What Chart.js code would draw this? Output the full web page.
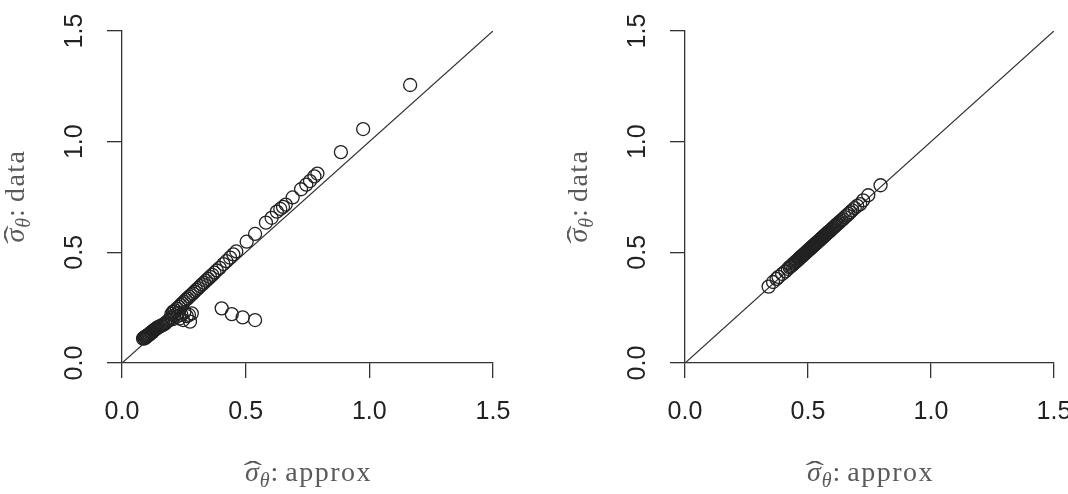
<!DOCTYPE html>
<html>
<head>
<meta charset="utf-8">
<script src="https://cdn.jsdelivr.net/npm/chart.js@4.4.0/dist/chart.umd.min.js"></script>
<style>
  html, body { margin: 0; padding: 0; background: #fff; }
  #wrap { width: 1068px; height: 494px; display: flex; }
  .panel { position: relative; width: 534px; height: 494px; }
</style>
</head>
<body>
<div id="wrap">
  <div class="panel"><canvas id="left"></canvas></div>
  <div class="panel"><canvas id="right"></canvas></div>
</div>
<script>
// axis ticks (both axes, both panels)
const tickValues = [0, 0.5, 1.0, 1.5];
const diagonal = [0, 1.5];

// left panel: sigma hat approx vs data
const leftApprox = [
  0.085, 0.088, 0.091, 0.093, 0.096, 0.098, 0.101, 0.103, 0.106, 0.109,
  0.111, 0.114, 0.117, 0.120, 0.122, 0.125, 0.128, 0.131, 0.134, 0.137,
  0.140, 0.144, 0.148, 0.153, 0.158, 0.163, 0.168, 0.174, 0.180, 0.186,
  0.192,
  0.198, 0.205, 0.207, 0.212, 0.221, 0.226, 0.233, 0.240, 0.247, 0.252,
  0.262, 0.271, 0.275, 0.282,
  0.200, 0.208, 0.215, 0.222, 0.230, 0.237, 0.244, 0.251, 0.258, 0.265,
  0.272, 0.279, 0.286, 0.293, 0.300, 0.308, 0.316, 0.324, 0.332, 0.340,
  0.348, 0.356, 0.365, 0.374, 0.383, 0.395, 0.410, 0.422, 0.437, 0.450,
  0.462, 0.504, 0.538, 0.582, 0.605, 0.626, 0.640, 0.651, 0.662, 0.690,
  0.724, 0.745, 0.760, 0.778, 0.790, 0.885, 0.975, 1.165,
  0.403, 0.444, 0.488, 0.538
];
const leftData = [
  0.110, 0.114, 0.111, 0.118, 0.116, 0.121, 0.124, 0.122, 0.127, 0.130,
  0.128, 0.134, 0.137, 0.140, 0.138, 0.144, 0.147, 0.149, 0.152, 0.154,
  0.157, 0.160, 0.163, 0.165, 0.168, 0.171, 0.174, 0.178, 0.185, 0.190,
  0.196,
  0.205, 0.198, 0.232, 0.215, 0.209, 0.225, 0.201, 0.218, 0.194, 0.230,
  0.212, 0.217, 0.187, 0.224,
  0.222, 0.230, 0.238, 0.246, 0.254, 0.262, 0.270, 0.277, 0.285, 0.292,
  0.300, 0.307, 0.314, 0.322, 0.330, 0.338, 0.347, 0.355, 0.363, 0.372,
  0.380, 0.389, 0.398, 0.408, 0.418, 0.430, 0.447, 0.460, 0.476, 0.491,
  0.504, 0.548, 0.583, 0.634, 0.656, 0.684, 0.696, 0.705, 0.716, 0.748,
  0.785, 0.806, 0.822, 0.843, 0.856, 0.953, 1.057, 1.256,
  0.247, 0.221, 0.206, 0.194
];

// right panel
const rightApprox = [
  0.340, 0.358, 0.372, 0.380, 0.395, 0.408, 0.418, 0.425, 0.430, 0.436,
  0.440, 0.445, 0.449, 0.452, 0.456, 0.460, 0.463, 0.466, 0.470, 0.473,
  0.476, 0.479, 0.482, 0.485, 0.488, 0.491, 0.494, 0.497, 0.500, 0.503,
  0.506, 0.509, 0.512, 0.515, 0.518, 0.521, 0.524, 0.527, 0.530, 0.533,
  0.536, 0.539, 0.542, 0.545, 0.548, 0.551, 0.554, 0.557, 0.560, 0.563,
  0.566, 0.569, 0.572, 0.575, 0.578, 0.581, 0.584, 0.588, 0.592, 0.596,
  0.600, 0.604, 0.608, 0.612, 0.616, 0.620, 0.625, 0.630, 0.636, 0.642,
  0.650, 0.658, 0.665, 0.672, 0.680, 0.690, 0.700, 0.712, 0.724, 0.745,
  0.795
];
const rightData = [
  0.345, 0.366, 0.380, 0.389, 0.402, 0.414, 0.425, 0.433, 0.437, 0.442,
  0.448, 0.452, 0.456, 0.460, 0.463, 0.466, 0.471, 0.474, 0.477, 0.481,
  0.483, 0.487, 0.490, 0.492, 0.496, 0.499, 0.501, 0.505, 0.508, 0.511,
  0.513, 0.517, 0.520, 0.522, 0.526, 0.529, 0.532, 0.535, 0.538, 0.541,
  0.544, 0.547, 0.550, 0.553, 0.556, 0.559, 0.562, 0.565, 0.568, 0.571,
  0.575, 0.577, 0.580, 0.584, 0.586, 0.590, 0.592, 0.596, 0.600, 0.604,
  0.609, 0.612, 0.617, 0.620, 0.625, 0.629, 0.633, 0.639, 0.645, 0.650,
  0.659, 0.667, 0.674, 0.681, 0.690, 0.700, 0.710, 0.718, 0.735, 0.758,
  0.803
];

const axisColor = "#333";
const tickFont = { family: "'Liberation Sans', Arial, sans-serif", size: 25 };

// axis titles: sigma with a wide hat and a subscript theta, as canvas text
function drawSigmaLabel(ctx, word, cx, cy, rot) {
  ctx.save();
  ctx.translate(cx, cy);
  ctx.rotate(rot);
  const big = "italic 28px 'Liberation Serif'";
  const small = "italic 20px 'Liberation Serif'";
  const roman = "28px 'Liberation Serif'";
  ctx.letterSpacing = "0px";
  ctx.font = big;
  const w1 = ctx.measureText("σ").width + 2;
  ctx.font = small;
  const w2 = ctx.measureText("θ").width;
  ctx.font = roman;
  const w3 = ctx.measureText(":").width;
  ctx.letterSpacing = "1.5px";
  const w4 = ctx.measureText(word).width;
  ctx.letterSpacing = "0px";
  const gap = 7;
  let x = -(w1 + w2 + w3 + gap + w4) / 2;
  ctx.fillStyle = "#5a5a5a";
  ctx.textAlign = "left";
  ctx.textBaseline = "alphabetic";
  ctx.font = big;
  ctx.fillText("σ", x + 1, 0);
  // wide hat over sigma
  ctx.save();
  ctx.translate(x + w1 / 2 + 1, -1);
  ctx.scale(2.0, 1);
  ctx.font = roman;
  ctx.textAlign = "center";
  ctx.fillText("ˆ", 0, 0);
  ctx.restore();
  x += w1;
  ctx.font = small;
  ctx.fillText("θ", x, 6);
  x += w2 + 1;
  ctx.font = roman;
  ctx.fillText(":", x, 0);
  x += w3 + gap;
  ctx.letterSpacing = "1.5px";
  ctx.fillText(word, x, 0);
  ctx.restore();
}

const sigmaTitles = {
  id: "sigmaTitles",
  afterDraw(chart) {
    const a = chart.chartArea;
    drawSigmaLabel(chart.ctx, "approx", (a.left + a.right) / 2, 481, 0);
    drawSigmaLabel(chart.ctx, "data", a.left - 98, (a.top + a.bottom) / 2, -Math.PI / 2);
  }
};

function fixedTicks(scale) {
  scale.ticks = tickValues.map(v => ({ value: v }));
}

function makeChart(id, xs, ys, axisWidth, padRight) {
  const points = xs.map((x, i) => ({ x: x, y: ys[i] }));
  return new Chart(document.getElementById(id), {
    type: "scatter",
    data: {
      datasets: [
        {
          type: "line",
          data: diagonal.map(v => ({ x: v, y: v })),
          borderColor: axisColor,
          borderWidth: 1.3,
          pointRadius: 0,
          order: 2,
        },
        {
          data: points,
          pointStyle: "circle",
          pointRadius: 6.5,
          borderColor: "#222",
          borderWidth: 1.3,
          backgroundColor: "rgba(0,0,0,0)",
          order: 1,
        },
      ],
    },
    options: {
      responsive: true,
      maintainAspectRatio: false,
      animation: false,
      events: [],
      layout: { padding: { left: 0, right: padRight, top: 31, bottom: 0 } },
      plugins: { legend: { display: false }, tooltip: { enabled: false } },
      scales: {
        x: {
          type: "linear",
          min: 0,
          max: 1.5,
          afterBuildTicks: fixedTicks,
          afterFit(s) { s.height = 131; s.paddingLeft = 0; s.paddingRight = 0; },
          grid: { drawOnChartArea: false, drawTicks: true, tickLength: 15, color: axisColor, lineWidth: 1.3 },
          border: { color: axisColor, width: 1.3 },
          ticks: { font: tickFont, color: "#222", padding: 19, maxRotation: 0, callback: v => v.toFixed(1) },
        },
        y: {
          type: "linear",
          min: 0,
          max: 1.5,
          afterBuildTicks: fixedTicks,
          afterFit(s) { s.width = axisWidth; s.paddingTop = 0; s.paddingBottom = 0; },
          grid: { drawOnChartArea: false, drawTicks: true, tickLength: 15, color: axisColor, lineWidth: 1.3 },
          border: { color: axisColor, width: 1.3 },
          ticks: { font: tickFont, color: "#222", padding: 15, minRotation: 90, maxRotation: 90, crossAlign: "center", callback: v => v.toFixed(1) },
        },
      },
    },
    plugins: [sigmaTitles],
  });
}

makeChart("left", leftApprox, leftData, 122, 41);
makeChart("right", rightApprox, rightData, 151, 14);
</script>
</body>
</html>
